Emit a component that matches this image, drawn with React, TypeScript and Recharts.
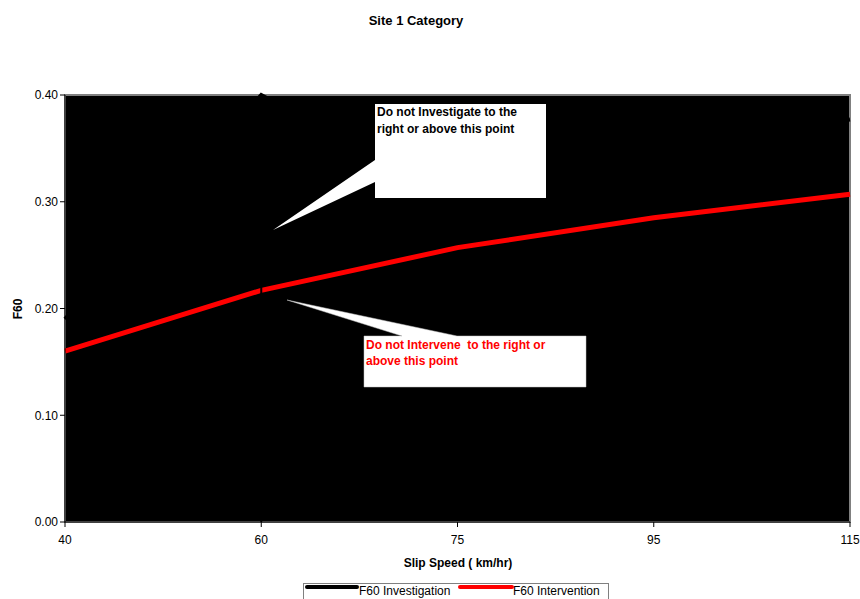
import React from 'react';
import {
  LineChart,
  Line,
  XAxis,
  YAxis,
  ReferenceArea,
  ReferenceLine,
  Legend,
} from 'recharts';

const categories = ['40', '60', '75', '95', '115'];
const investigation = [0.19, 0.4, 0.3, 0.35, 0.377];
const intervention = [0.16, 0.217, 0.257, 0.285, 0.307];
const yTicks = [0, 0.1, 0.2, 0.3, 0.4];
const seriesNames = ['F60 Investigation', 'F60 Intervention'];
const titleText = 'Site 1 Category';
const xTitle = 'Slip Speed ( km/hr)';
const yTitle = 'F60';
const note1 = ['Do not Investigate to the', 'right or above this point'];
const note2 = ['Do not Intervene  to the right or', 'above this point'];

const data = categories.map((c, i) => ({
  speed: c,
  inv: investigation[i],
  int: intervention[i],
}));

const FONT = '"Liberation Sans", Arial, sans-serif';

const Overlay = () => (
  <svg
    width={860}
    height={599}
    style={{ position: 'absolute', left: 0, top: 0, pointerEvents: 'none' }}
    fontFamily={FONT}
  >
    <text x={416} y={25} textAnchor="middle" fontSize={13} fontWeight="bold" fill="#000">
      {titleText}
    </text>
    <text x={458} y={567} textAnchor="middle" fontSize={12} fontWeight="bold" fill="#000">
      {xTitle}
    </text>
    <text
      x={22}
      y={309}
      textAnchor="middle"
      fontSize={12}
      fontWeight="bold"
      fill="#000"
      transform="rotate(-90 22 309)"
    >
      {yTitle}
    </text>
    {/* callout 1 */}
    <polygon points="375,104 546,104 546,198 375,198 375,182 273,230 375,160" fill="#fff" />
    {note1.map((t, i) => (
      <text key={i} x={377} y={116 + i * 17} fontSize={12} fontWeight="bold" fill="#000">
        {t}
      </text>
    ))}
    {/* callout 2 */}
    <polygon
      points="364,336 402,336 287,300 457,336 586,336 586,387 364,387"
      fill="#fff"
      stroke="#c0c0c0"
      strokeWidth={0.5}
    />
    {note2.map((t, i) => (
      <text
        key={i}
        x={366}
        y={349 + i * 16}
        fontSize={12}
        fontWeight="bold"
        fill="#ff0000"
        style={{ whiteSpace: 'pre' }}
      >
        {t}
      </text>
    ))}
  </svg>
);

const LegendContent = () => (
  <svg width={306} height={20} style={{ display: 'block', fontFamily: FONT }}>
    <rect x={0.5} y={0.5} width={305} height={19} fill="#fff" stroke="#808080" />
    <line x1={4} y1={4} x2={54} y2={4} stroke="#000" strokeWidth={4} strokeLinecap="round" />
    <text x={56} y={12} fontSize={12} fill="#000">
      {seriesNames[0]}
    </text>
    <line x1={157} y1={4} x2={209} y2={4} stroke="#ff0000" strokeWidth={4} strokeLinecap="round" />
    <text x={210} y={12} fontSize={12} fill="#000">
      {seriesNames[1]}
    </text>
  </svg>
);

export default function App() {
  return (
    <div style={{ position: 'absolute', left: 0, top: 0, width: 860, height: 599, background: '#fff' }}>
      <LineChart
        width={860}
        height={599}
        data={data}
        margin={{ top: 95, right: 10, bottom: 0, left: 0 }}
      >
        <XAxis
          dataKey="speed"
          height={77}
          interval={0}
          tickSize={5}
          tickMargin={8}
          stroke="#000"
          tick={{ fill: '#000', fontSize: 12, fontFamily: FONT }}
        />
        <YAxis
          width={65}
          domain={[0, 0.4]}
          ticks={yTicks}
          tickFormatter={(v: number) => v.toFixed(2)}
          tickSize={5}
          tickMargin={2}
          stroke="#000"
          tick={{ fill: '#000', fontSize: 12, fontFamily: FONT }}
        />
        <ReferenceArea
          x1="40"
          x2="115"
          y1={0}
          y2={0.4}
          fill="#000"
          fillOpacity={1}
          stroke="#808080"
          strokeWidth={2}
        />
        <Line
          dataKey="inv"
          name={seriesNames[0]}
          stroke="#000"
          strokeWidth={4}
          dot={false}
          isAnimationActive={false}
        />
        <Line
          dataKey="int"
          name={seriesNames[1]}
          stroke="#ff0000"
          strokeWidth={5}
          dot={false}
          isAnimationActive={false}
        />
        <ReferenceLine x="60" stroke="#000" strokeWidth={2} />
        <Legend
          layout="vertical"
          align="center"
          verticalAlign="middle"
          content={<LegendContent />}
          wrapperStyle={{ position: 'absolute', left: 303, top: 583, width: 306, height: 20 }}
        />
      </LineChart>
      <Overlay />
    </div>
  );
}
